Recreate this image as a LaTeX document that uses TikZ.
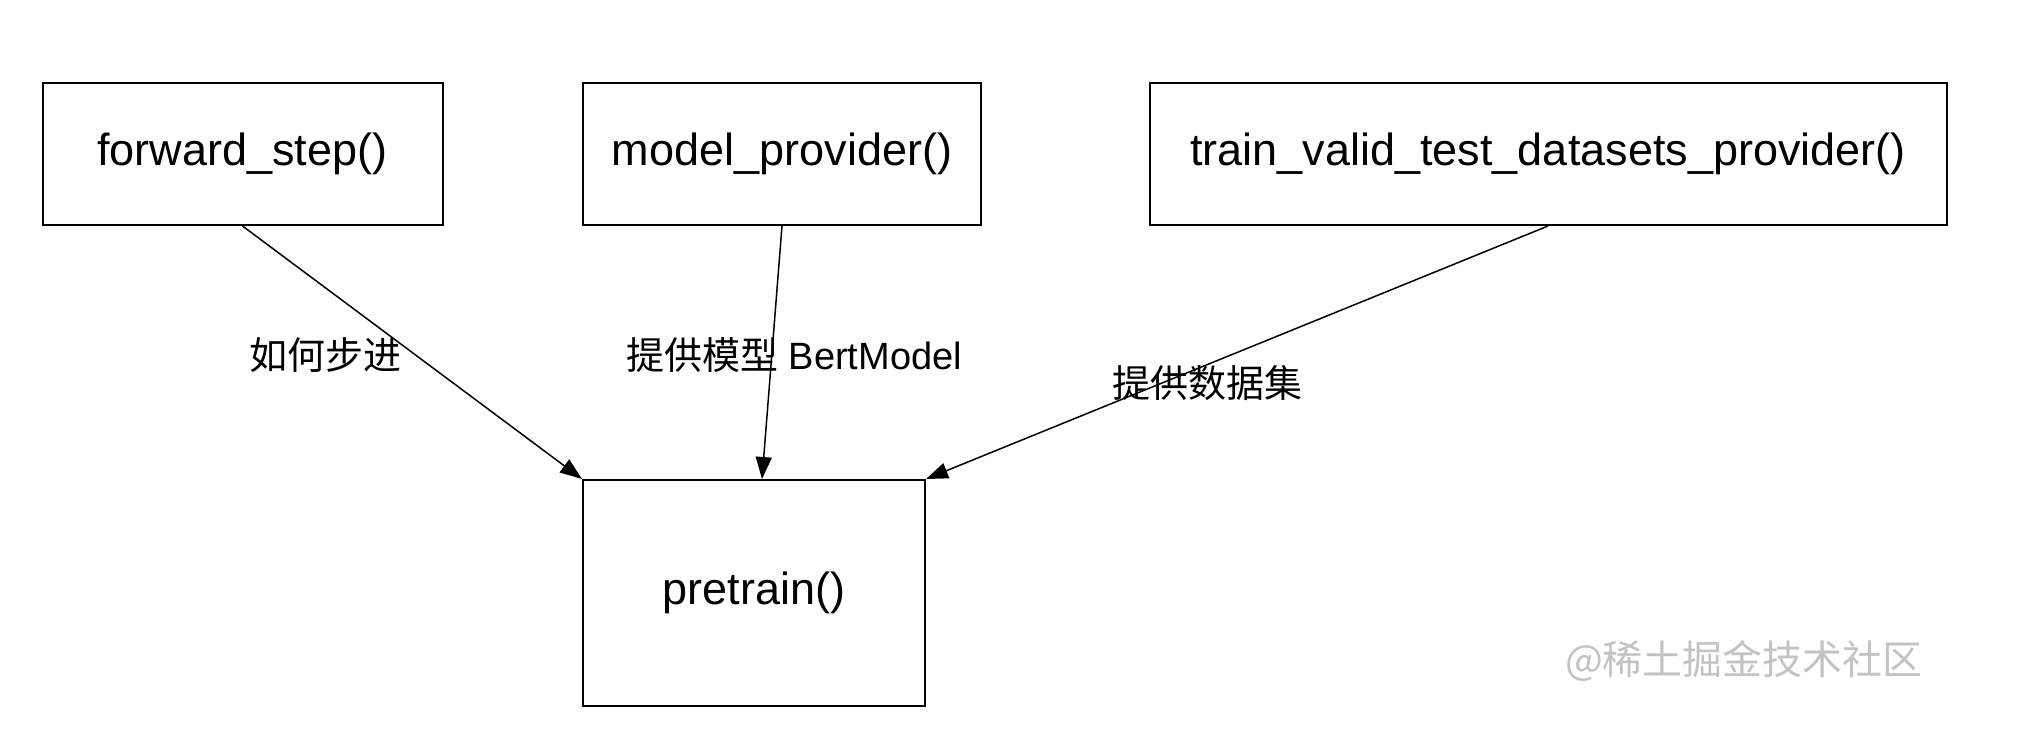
\documentclass[tikz,border=0pt]{standalone}
\usepackage{fontspec}
\setmainfont{Liberation Sans}
\newfontfamily\cjk{Noto Sans CJK SC}
\usetikzlibrary{arrows.meta,calc}
\definecolor{wmgray}{RGB}{195,195,195}
\tikzset{
  fbox/.style={draw=black,line width=1pt,inner sep=0pt,font=\fontsize{22.5}{26}\selectfont},
  conn/.style={draw=black,line width=0.75pt,-{Triangle[length=11pt,width=8pt]}},
  elabel/.style={inner sep=0pt,font=\fontsize{19}{22}\selectfont}
}
\begin{document}
\begin{tikzpicture}[x=0.5pt,y=-0.5pt]
\useasboundingbox[fill=white] (0,0) rectangle (2020,730);
\node[fbox,minimum width=200pt,minimum height=71pt] (fwd) at (242.5,154) {\raisebox{-2pt}{forward\_step()}};
\node[fbox,minimum width=199pt,minimum height=71pt] (model) at (782,154) {\raisebox{-2pt}{model\_provider()}};
\node[fbox,minimum width=398.5pt,minimum height=71pt] (train) at (1548,154) {\raisebox{-2pt}{train\_valid\_test\_datasets\_provider()}};
\node[fbox,minimum width=171pt,minimum height=113pt] (pre) at (754,593) {\raisebox{-3pt}{pretrain()}};
\coordinate (pmid) at ($(pre.north)+(4pt,0)$);
\draw[conn] (fwd.south) -- (pre.north west);
\draw[conn] (model.south) -- (pmid);
\draw[conn] (train.south) -- (pre.north east);
\node[elabel] (l1) at (325,355) {\cjk 如何步进};
\node[elabel] (l2) at (794,355) {{\cjk 提供模型} BertModel};
\node[elabel] (l3) at (1207,383) {\cjk 提供数据集};
\node[inner sep=0pt,text=wmgray,font=\fontsize{20}{24}\selectfont] (wm) at (1744,661) {{\cjk @稀土掘金技术社区}};
\end{tikzpicture}
\end{document}
